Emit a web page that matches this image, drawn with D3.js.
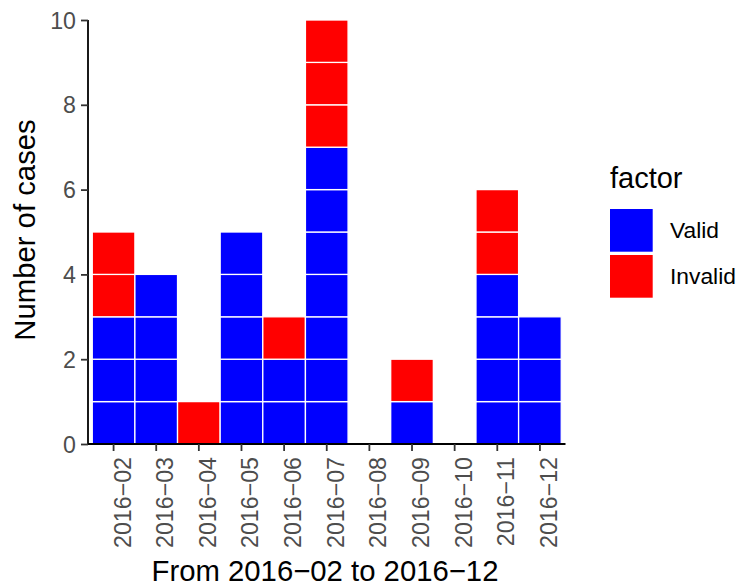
<!DOCTYPE html>
<html><head><meta charset="utf-8">
<script src="https://cdn.jsdelivr.net/npm/d3@7"></script>
<style>body{margin:0;background:#fff}</style>
</head><body>
<svg id="chart" width="740" height="587"></svg>
<script>
const months = ["2016-02","2016-03","2016-04","2016-05","2016-06","2016-07","2016-08","2016-09","2016-10","2016-11","2016-12"];
const validCounts   = [3,4,0,5,2,7,0,1,0,4,3];
const invalidCounts = [2,0,1,0,1,3,0,1,0,2,0];
const seriesNames = ["Valid","Invalid"];
const seriesColors = ["#0000FF","#FF0000"];
const yTicks = [0,2,4,6,8,10];
const xTitle = "From 2016\u221202 to 2016\u221212";
const yTitle = "Number of cases";
const legendTitle = "factor";

const svg = d3.select("#chart");
const font = "'Liberation Sans', Arial, Helvetica, sans-serif";
const panel = {left: 88, right: 565.5, top: 20, bottom: 444};

const x = d3.scaleBand().domain(months).range([panel.left, panel.right]).paddingInner(0).paddingOuter(0.1);
const y = d3.scaleLinear().domain([0,10]).range([panel.bottom, panel.top]);
const color = d3.scaleOrdinal().domain(seriesNames).range(seriesColors);

// unit cells
const cells = [];
months.forEach((m,i) => {
  let level = 0;
  [validCounts[i], invalidCounts[i]].forEach((n,s) => {
    d3.range(n).forEach(() => { cells.push({month:m, series:seriesNames[s], y0:level, y1:level+1}); level++; });
  });
});

svg.append("g").selectAll("rect").data(cells).join("rect")
  .attr("x", d => x(d.month))
  .attr("width", x.bandwidth())
  .attr("y", d => y(d.y1))
  .attr("height", d => y(d.y0) - y(d.y1))
  .attr("fill", d => color(d.series))
  .attr("stroke", "#fff")
  .attr("stroke-width", 1.3);

// y axis
const yAxis = svg.append("g").attr("transform", `translate(${panel.left},0)`)
  .call(d3.axisLeft(y).tickValues(yTicks).tickSize(7).tickPadding(5).tickFormat(d3.format("d")));
yAxis.select(".domain").attr("stroke","#000").attr("stroke-width",1.8).attr("d", `M0,${panel.top}V${panel.bottom}`);
yAxis.selectAll(".tick line").attr("stroke","#333").attr("stroke-width",1.8);
yAxis.selectAll(".tick text").attr("fill","#4D4D4D").style("font-family",font).style("font-size","23.2px").attr("dy","0.35em");

// x axis
const xAxis = svg.append("g").attr("transform", `translate(0,${panel.bottom})`)
  .call(d3.axisBottom(x).tickSize(7).tickFormat(d => d.replace("-","\u2212")));
xAxis.select(".domain").attr("stroke","#000").attr("stroke-width",1.8).attr("d", `M${panel.left},0H${panel.right}`);
xAxis.selectAll(".tick line").attr("stroke","#333").attr("stroke-width",1.8);
xAxis.selectAll(".tick text")
  .attr("fill","#4D4D4D").style("font-family",font).style("font-size","23.2px")
  .attr("text-anchor","end").attr("dy",null).attr("y",null)
  .attr("transform","translate(17,13) rotate(-90)");

// titles
svg.append("text").attr("x", 325).attr("y", 581)
  .attr("text-anchor","middle").style("font-family",font).style("font-size","29.3px").attr("fill","#000").text(xTitle);
svg.append("text").attr("transform", `translate(34.5,230) rotate(-90)`)
  .attr("text-anchor","middle").style("font-family",font).style("font-size","29.3px").attr("fill","#000").text(yTitle);

// legend
const lg = svg.append("g");
lg.append("text").attr("x",610).attr("y",188).style("font-family",font).style("font-size","29px").attr("fill","#000").text(legendTitle);
const items = lg.selectAll("g.item").data(seriesNames).join("g").attr("class","item")
  .attr("transform",(d,i)=>`translate(610,${209 + i*46})`);
items.append("rect").attr("width",42.7).attr("height",42.7).attr("fill",d=>color(d));
items.append("text").attr("x",60).attr("y",21.5).attr("dy","0.35em").style("font-family",font).style("font-size","22.8px").attr("fill","#000").text(d=>d);
</script>
</body></html>
